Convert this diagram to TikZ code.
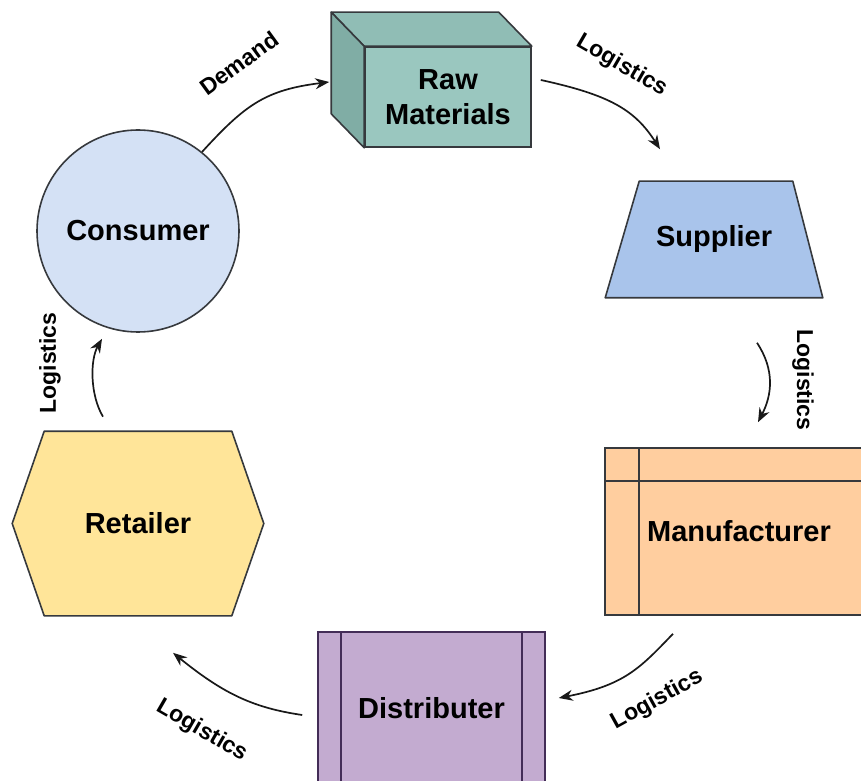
\documentclass[tikz,border=0pt]{standalone}
\usepackage{fontspec}
\setmainfont{Liberation Sans}
\usetikzlibrary{arrows.meta,backgrounds}
\definecolor{linegray}{HTML}{36393D}
\definecolor{consumerfill}{HTML}{D4E1F5}
\definecolor{rawfront}{HTML}{9AC7BF}
\definecolor{rawtop}{HTML}{90BDB5}
\definecolor{rawside}{HTML}{80ADA5}
\definecolor{supplierfill}{HTML}{A9C4EB}
\definecolor{manufill}{HTML}{FFCE9F}
\definecolor{distfill}{HTML}{C3ABD0}
\definecolor{distline}{HTML}{432D57}
\definecolor{retailfill}{HTML}{FFE599}
\begin{document}
\begin{tikzpicture}[x=1pt, y=1pt,
  box/.style = {draw=linegray, line width=1.6pt, inner sep=0pt, font=\bfseries\fontsize{29}{35}\selectfont, align=center},
  face/.style = {draw=linegray, line width=1.6pt, line join=round},
  lbl/.style = {font=\bfseries\fontsize{23}{26}\selectfont, inner sep=0pt},
  arr/.style = {-{Stealth[length=14pt,width=11pt]}, line width=1.7pt, draw=black!90}]
\useasboundingbox (0,0) rectangle (861,780);
\node[box, circle, fill=consumerfill, minimum size=202pt] (consumer) at (138,549) {Consumer};
\node[box, rectangle, fill=rawfront, minimum width=166pt, minimum height=100pt] (raw) at (448,683) {Raw\\Materials};
\filldraw[face, fill=rawtop] (raw.north west) -- ++(-33,34) -- ([shift={(-33,34)}]raw.north east) -- (raw.north east) -- cycle;
\filldraw[face, fill=rawside] (raw.north west) -- ++(-33,34) -- ([shift={(-33,34)}]raw.south west) -- (raw.south west) -- cycle;
\node[box, rectangle, draw=none, minimum width=216pt, minimum height=115pt] (supplier) at (714,540.5) {Supplier};
\node[box, rectangle, fill=manufill, minimum width=268pt, minimum height=167pt] (manu) at (739,248.5) {Manufacturer};
\draw[face] ([xshift=35pt]manu.north west) -- ([xshift=35pt]manu.south west);
\draw[face] ([yshift=-34pt]manu.north west) -- ([yshift=-34pt]manu.north east);
\node[box, rectangle, draw=distline, fill=distfill, minimum width=227pt, minimum height=152pt] (dist) at (431.5,72) {Distributer};
\draw[face, draw=distline] ([xshift=24pt]dist.north west) -- ([xshift=24pt]dist.south west);
\draw[face, draw=distline] ([xshift=-24pt]dist.north east) -- ([xshift=-24pt]dist.south east);
\node[box, rectangle, draw=none, minimum width=250pt, minimum height=183pt] (retail) at (138,256.5) {Retailer};
\begin{scope}[on background layer]
\filldraw[face, fill=supplierfill] (supplier.south west) -- (supplier.south east) -- ([xshift=-30pt]supplier.north east) -- ([xshift=34pt]supplier.north west) -- cycle;
\filldraw[face, fill=retailfill] (retail.west) -- ([xshift=32pt]retail.north west) -- ([xshift=-32pt]retail.north east) -- (retail.east) -- ([xshift=-32pt]retail.south east) -- ([xshift=32pt]retail.south west) -- cycle;
\end{scope}
\draw[arr] (consumer.51) .. controls (245,675) and (265,690) .. ([shift={(-35,15)}]raw.west);
\draw[arr] ([shift={(9,17)}]raw.east) .. controls (610,685) and (635,670) .. ([shift={(-54,32)}]supplier.north);
\draw[arr] ([shift={(43,-45)}]supplier.south) .. controls (775,410) and (772,385) .. ([shift={(19,25)}]manu.north);
\draw[arr] ([shift={(-66,-18)}]manu.south) .. controls (640,112) and (625,95) .. ([shift={(13,10)}]dist.east);
\draw[arr] ([shift={(-15,-7)}]dist.west) .. controls (255,72) and (225,85) .. ([shift={(35,-37)}]retail.south);
\draw[arr] ([shift={(-35,14.5)}]retail.north) .. controls (90,385) and (90,420) .. ([shift={(-36,-6)}]consumer.south);
\node[lbl, rotate=36] (demand) at (239,717) {Demand};
\node[lbl, rotate=-30] (log1) at (622,714) {Logistics};
\node[lbl, rotate=-90] (log2) at (803,400) {Logistics};
\node[lbl, rotate=29] (log3) at (657,80) {Logistics};
\node[lbl, rotate=-30] (log4) at (202,49) {Logistics};
\node[lbl, rotate=90] (log5) at (50,417) {Logistics};
\end{tikzpicture}
\end{document}
